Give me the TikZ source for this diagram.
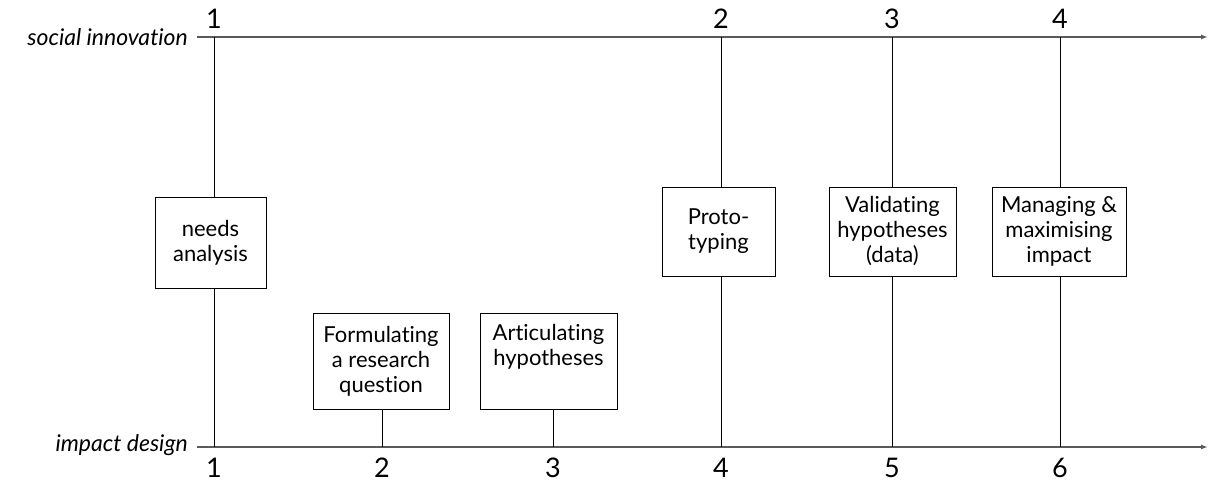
\documentclass[tikz,border=0pt]{standalone}
\usepackage{fontspec}
\setmainfont{Lato}[Ligatures={NoCommon,NoRare}]
\usetikzlibrary{arrows.meta}

\definecolor{caxis}{RGB}{90,90,90}

\tikzset{
  axis/.style={draw=caxis, line width=1.4pt, -{Latex[length=7pt,width=5pt]}},
  tick/.style={draw=black, line width=0.8pt},
  stagebox/.style={draw=black, line width=0.9pt, fill=white, align=center,
    inner sep=0pt, font=\fontsize{22}{25}\selectfont},
  axislabel/.style={anchor=east, inner sep=0pt, font=\fontsize{23}{26}\selectfont\itshape},
  stepnum/.style={inner sep=0pt, font=\fontsize{27}{30}\selectfont},
}

\begin{document}
\begin{tikzpicture}[x=1pt, y=-1pt]
\useasboundingbox (0,0) rectangle (1212,482);

% axes
\coordinate (siL) at (197,37);
\coordinate (siR) at (1208,37);
\coordinate (idL) at (197,447);
\coordinate (idR) at (1208,447);
\node[axislabel] (silab) at (188,37) {social innovation};
\node[axislabel] (idlab) at (188,445) {impact design};
\draw[axis] (siL) -- (siR);
\draw[axis] (idL) -- (idR);

% step positions
\coordinate (t1) at (214,37);
\coordinate (t2) at (721,37);
\coordinate (t3) at (892,37);
\coordinate (t4) at (1060,37);
\coordinate (b1) at (214,447);
\coordinate (b2) at (382,447);
\coordinate (b3) at (553,447);
\coordinate (b4) at (721,447);
\coordinate (b5) at (892,447);
\coordinate (b6) at (1060,447);

% step numbers
\node[stepnum, anchor=base] (tn1) at (214,28) {1};
\node[stepnum, anchor=base] (tn2) at (721,28) {2};
\node[stepnum, anchor=base] (tn3) at (892,28) {3};
\node[stepnum, anchor=base] (tn4) at (1060,28) {4};
\node[stepnum, anchor=base] (bn1) at (214,477) {1};
\node[stepnum, anchor=base] (bn2) at (382,477) {2};
\node[stepnum, anchor=base] (bn3) at (553,477) {3};
\node[stepnum, anchor=base] (bn4) at (721,477) {4};
\node[stepnum, anchor=base] (bn5) at (892,477) {5};
\node[stepnum, anchor=base] (bn6) at (1060,477) {6};

% stages
\node[stagebox, minimum width=111, minimum height=91] (needs) at (210.5,242.5) {needs\\analysis};
\node[stagebox, minimum width=136, minimum height=96] (formq) at (381,361) {Formulating\\a research\\question};
\node[stagebox, minimum width=137, minimum height=96] (arthyp) at (548.5,361) {Articulating\\hypotheses\\\strut};
\node[stagebox, minimum width=113, minimum height=89] (proto) at (718.5,231.5) {Proto-\\typing};
\node[stagebox, minimum width=127, minimum height=89] (valhyp) at (892.5,231.5) {Validating\\hypotheses\\(data)};
\node[stagebox, minimum width=134, minimum height=89] (manage) at (1059,231.5) {Managing \&\\maximising\\impact};

% connectors
\draw[tick] (t1) -- (t1 |- needs.north);
\draw[tick] (b1 |- needs.south) -- (b1);
\draw[tick] (b2 |- formq.south) -- (b2);
\draw[tick] (b3 |- arthyp.south) -- (b3);
\draw[tick] (t2) -- (t2 |- proto.north);
\draw[tick] (b4 |- proto.south) -- (b4);
\draw[tick] (t3) -- (t3 |- valhyp.north);
\draw[tick] (b5 |- valhyp.south) -- (b5);
\draw[tick] (t4) -- (t4 |- manage.north);
\draw[tick] (b6 |- manage.south) -- (b6);

\end{tikzpicture}
\end{document}
